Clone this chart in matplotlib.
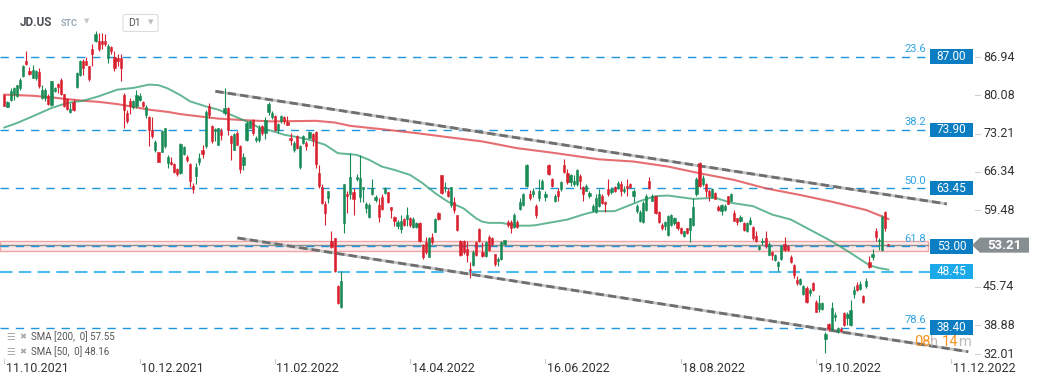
import matplotlib.pyplot as plt
import matplotlib.transforms as mtransforms
from matplotlib.patches import Rectangle, Polygon, FancyBboxPatch

plt.rcParams['font.family'] = ['Roboto', 'DejaVu Sans']

# daily candles JD.US (one entry per session)
opens = [
    80.2, 78.0, 79.3, 80.3, 79.9, 81.3, 83.6, 86.3, 84.5, 83.2,
    83.2, 84.3, 79.6, 79.6, 79.9, 78.3, 80.8, 82.1, 82.9, 80.3,
    79.5, 77.0, 78.9, 81.6, 83.7, 86.3, 86.3, 85.3, 88.4, 89.9,
    89.9, 89.9, 89.9, 86.7, 88.7, 86.9, 86.8, 86.7, 80.1, 76.9,
    79.0, 77.9, 78.1, 79.3, 78.9, 76.5, 76.1, 73.9, 70.2, 69.9,
    70.0, 70.9, 67.9, 68.2, 67.8, 66.8, 66.2, 69.6, 69.1, 67.8,
    63.8, 65.6, 68.1, 70.2, 70.9, 78.1, 74.5, 73.6, 71.2, 73.7,
    76.9, 77.8, 72.7, 70.3, 73.3, 70.9, 67.6, 72.0, 74.3, 75.7,
    72.0, 72.0, 74.5, 73.3, 77.1, 76.1, 76.3, 73.9, 75.4, 76.1,
    75.3, 72.5, 70.3, 72.7, 67.3, 71.5, 71.5, 72.5, 73.1, 73.5,
    66.2, 63.6, 60.6, 61.6, 53.9, 54.4, 45.8, 42.1, 57.2, 62.4,
    62.3, 62.7, 65.0, 61.8, 63.2, 59.8, 58.3, 62.3, 61.3, 60.4,
    61.9, 62.5, 62.7, 60.0, 58.2, 56.7, 56.1, 57.9, 57.9, 58.0,
    56.5, 56.5, 57.1, 53.2, 53.7, 51.1, 54.7, 55.6, 58.9, 65.7,
    63.4, 62.9, 60.4, 61.0, 58.6, 54.0, 54.0, 52.6, 49.0, 49.7,
    53.7, 56.1, 52.0, 51.3, 54.6, 54.4, 51.6, 50.4, 50.7, 53.5,
    57.4, 57.4, 56.5, 57.4, 59.7, 60.4, 63.9, 62.3, 62.3, 60.2,
    61.7, 63.3, 61.8, 67.5, 65.0, 61.2, 63.0, 63.2, 67.6, 66.2,
    64.5, 64.1, 64.2, 65.6, 63.6, 63.0, 62.1, 59.6, 59.2, 60.2,
    62.0, 61.0, 63.2, 62.7, 63.6, 63.5, 64.1, 62.9, 63.9, 64.2,
    62.1, 59.3, 57.6, 57.4, 59.6, 64.8, 61.2, 62.0, 59.2, 56.9,
    56.6, 55.0, 56.8, 57.2, 57.4, 56.3, 54.8, 56.2, 56.0, 56.8,
    62.3, 67.9, 64.2, 64.2, 62.9, 61.8, 62.6, 60.0, 59.3, 59.6,
    62.0, 61.2, 59.0, 58.0, 57.6, 57.2, 55.7, 57.0, 56.4, 54.8,
    52.6, 53.7, 54.5, 51.5, 52.0, 50.6, 49.4, 50.8, 53.4, 53.0,
    51.0, 49.6, 47.0, 46.2, 44.5, 45.6, 44.6, 46.4, 43.1, 41.8,
    41.8, 36.3, 39.0, 38.1, 40.3, 37.6, 38.2, 41.0, 40.2, 38.8,
    44.5, 46.1, 45.4, 44.0, 45.8, 50.2, 51.0, 55.8, 54.0, 52.4,
    59.2, 53.4,
]
highs = [
    80.3, 79.0, 81.4, 81.5, 82.0, 83.1, 85.6, 88.0, 85.1, 85.5,
    84.7, 85.0, 82.0, 81.3, 80.3, 82.7, 81.5, 82.3, 83.2, 80.4,
    79.6, 78.7, 79.5, 84.3, 86.4, 86.5, 86.9, 85.4, 89.3, 91.6,
    91.3, 91.3, 91.1, 89.3, 88.9, 88.0, 87.4, 87.4, 80.5, 77.5,
    79.6, 79.3, 81.1, 80.5, 79.0, 78.3, 76.3, 76.1, 72.1, 70.0,
    73.9, 74.3, 69.4, 69.1, 67.9, 67.0, 71.5, 70.9, 69.4, 67.9,
    64.4, 67.9, 69.7, 71.1, 77.5, 78.7, 74.7, 74.3, 74.3, 74.2,
    81.4, 77.9, 73.0, 73.3, 73.6, 71.1, 69.7, 75.4, 75.7, 75.9,
    72.7, 74.7, 74.8, 76.1, 78.9, 77.2, 76.6, 75.1, 76.6, 76.3,
    76.3, 73.3, 71.8, 73.0, 71.2, 73.0, 71.8, 73.7, 73.3, 73.6,
    67.5, 64.1, 61.1, 63.0, 55.7, 54.5, 46.0, 48.6, 64.2, 62.9,
    69.7, 63.5, 66.0, 69.4, 63.7, 61.0, 60.7, 65.1, 62.2, 61.7,
    62.3, 63.7, 62.8, 60.1, 58.5, 57.7, 58.6, 58.1, 60.1, 58.3,
    58.3, 57.4, 57.3, 53.4, 54.6, 54.7, 55.3, 58.1, 59.2, 65.8,
    64.6, 63.4, 63.7, 61.9, 58.7, 54.1, 54.1, 54.0, 50.2, 52.3,
    54.0, 56.3, 53.7, 54.0, 55.0, 54.7, 51.7, 51.1, 54.0, 54.2,
    57.7, 57.7, 58.9, 57.7, 61.6, 62.5, 67.7, 63.1, 63.4, 60.5,
    65.0, 65.0, 62.9, 67.8, 65.3, 62.3, 63.5, 64.8, 68.7, 66.9,
    65.9, 65.7, 66.8, 65.9, 63.9, 64.2, 62.9, 60.5, 62.3, 63.2,
    62.3, 61.2, 65.0, 63.6, 63.9, 64.7, 64.7, 63.8, 65.0, 64.4,
    63.2, 60.5, 59.6, 61.1, 62.3, 65.4, 62.4, 62.1, 59.4, 57.2,
    57.6, 58.7, 58.8, 58.2, 57.6, 56.4, 55.8, 56.3, 58.1, 61.7,
    65.4, 68.2, 65.7, 64.4, 63.2, 63.5, 62.7, 60.4, 60.5, 60.5,
    62.1, 62.6, 59.6, 58.1, 58.6, 57.4, 57.4, 58.2, 56.6, 55.7,
    53.3, 54.4, 55.7, 53.8, 52.1, 51.6, 50.3, 53.3, 54.6, 53.3,
    51.4, 49.8, 47.6, 47.4, 46.1, 45.8, 45.5, 46.6, 43.3, 44.2,
    43.0, 37.6, 39.3, 43.0, 41.3, 38.5, 38.5, 41.2, 41.3, 43.4,
    45.8, 46.6, 46.7, 44.2, 47.3, 51.2, 52.6, 56.2, 54.5, 58.6,
    59.3, 53.5,
]
lows = [
    78.1, 77.9, 79.1, 79.3, 79.7, 81.1, 83.4, 85.6, 83.8, 83.2,
    82.9, 81.4, 79.5, 79.0, 78.4, 78.2, 80.7, 80.5, 80.2, 77.9,
    77.5, 76.9, 77.3, 81.4, 83.5, 83.8, 85.5, 82.6, 85.3, 89.6,
    88.0, 88.4, 89.0, 85.9, 87.4, 84.4, 85.3, 82.6, 74.2, 75.1,
    76.7, 77.7, 77.8, 79.0, 77.9, 76.0, 70.9, 72.4, 70.0, 68.1,
    69.9, 70.6, 67.0, 67.6, 66.1, 65.6, 66.0, 69.4, 68.1, 63.6,
    62.6, 64.1, 67.6, 68.8, 70.6, 76.0, 71.5, 71.8, 71.1, 72.1,
    76.6, 73.0, 68.5, 70.2, 71.1, 66.2, 66.6, 71.8, 74.2, 73.0,
    71.7, 71.7, 73.0, 72.3, 76.6, 75.9, 73.7, 73.3, 75.1, 74.9,
    74.7, 71.1, 70.0, 70.5, 66.8, 71.4, 70.3, 72.4, 70.9, 67.0,
    63.5, 60.5, 56.9, 60.8, 52.7, 48.4, 42.7, 41.9, 55.4, 59.0,
    61.4, 58.7, 64.7, 61.0, 61.0, 58.9, 58.1, 62.2, 61.0, 57.4,
    59.5, 62.3, 60.7, 58.1, 56.7, 56.1, 55.3, 56.7, 56.7, 56.5,
    56.3, 56.2, 53.7, 50.8, 51.6, 51.0, 53.5, 55.5, 57.7, 62.3,
    62.8, 61.9, 60.1, 58.9, 55.7, 51.3, 51.7, 50.1, 47.4, 49.5,
    51.3, 53.7, 51.1, 51.1, 52.2, 53.1, 49.4, 49.4, 50.5, 53.2,
    56.5, 55.3, 56.2, 56.2, 59.5, 60.3, 63.7, 61.3, 61.9, 58.1,
    61.2, 63.2, 61.1, 65.7, 63.6, 61.0, 61.2, 63.0, 66.2, 64.1,
    63.9, 63.9, 63.9, 63.2, 61.2, 62.9, 61.7, 59.2, 59.0, 60.0,
    60.6, 59.2, 62.0, 62.3, 62.7, 63.2, 62.0, 62.6, 62.0, 63.5,
    61.0, 59.0, 57.4, 57.2, 59.4, 63.2, 61.1, 58.8, 57.2, 56.0,
    56.0, 54.8, 56.6, 56.8, 56.0, 55.2, 54.6, 55.2, 53.8, 56.6,
    62.0, 63.6, 63.9, 61.8, 61.1, 61.7, 61.4, 59.3, 58.6, 59.3,
    60.5, 61.1, 57.5, 56.9, 57.4, 55.8, 55.6, 56.8, 54.2, 53.8,
    52.4, 53.3, 52.7, 51.4, 50.6, 50.4, 48.6, 50.6, 52.2, 52.2,
    50.0, 47.3, 46.1, 46.0, 44.2, 42.8, 44.0, 44.9, 41.2, 41.3,
    41.6, 33.9, 37.8, 37.9, 39.6, 37.5, 37.6, 38.7, 38.8, 38.7,
    43.7, 44.9, 45.2, 42.8, 45.6, 49.1, 50.6, 53.9, 52.4, 52.2,
    55.7, 53.1,
]
closes = [
    78.2, 78.9, 80.9, 81.3, 81.9, 82.8, 85.3, 85.7, 83.9, 84.6,
    84.5, 81.7, 81.1, 81.1, 78.5, 82.6, 81.3, 81.5, 80.3, 78.1,
    77.7, 77.7, 77.5, 84.1, 86.3, 84.9, 85.6, 83.0, 87.5, 91.1,
    88.3, 89.3, 89.3, 89.0, 88.1, 84.9, 86.2, 84.9, 77.5, 75.4,
    78.1, 79.1, 80.2, 79.9, 78.1, 77.9, 73.9, 72.7, 71.7, 68.2,
    73.7, 74.2, 69.0, 67.8, 66.3, 65.9, 71.4, 70.8, 68.4, 64.7,
    63.3, 67.2, 68.8, 69.6, 77.1, 76.6, 71.8, 74.1, 74.2, 72.9,
    77.8, 73.9, 71.5, 73.1, 71.2, 66.9, 69.1, 75.1, 75.4, 73.3,
    72.4, 74.3, 73.3, 75.7, 78.5, 76.9, 73.9, 74.9, 76.3, 75.4,
    74.8, 72.0, 71.5, 70.6, 70.9, 72.7, 70.9, 73.5, 72.1, 67.8,
    63.9, 60.8, 59.0, 62.9, 52.8, 48.5, 42.8, 46.8, 64.1, 62.0,
    65.4, 61.4, 65.4, 65.2, 63.6, 60.5, 60.4, 63.5, 61.9, 58.3,
    59.7, 63.5, 60.9, 59.6, 57.6, 57.4, 57.5, 56.8, 58.7, 56.9,
    57.9, 57.1, 54.0, 51.1, 52.0, 54.4, 53.7, 57.9, 57.9, 62.5,
    63.7, 62.1, 63.6, 59.5, 55.9, 51.4, 52.0, 51.4, 48.8, 52.0,
    51.4, 54.0, 51.3, 53.7, 52.3, 53.4, 49.9, 50.8, 53.7, 54.1,
    56.8, 56.3, 58.6, 56.5, 60.9, 62.3, 67.6, 61.6, 62.9, 58.7,
    63.0, 64.8, 62.3, 65.9, 63.9, 62.0, 62.0, 64.5, 66.3, 64.5,
    65.7, 64.8, 66.6, 64.8, 62.3, 63.8, 62.6, 60.2, 61.6, 62.3,
    60.8, 60.5, 62.3, 63.3, 62.9, 64.4, 62.9, 63.3, 63.5, 63.6,
    62.9, 60.2, 59.2, 60.8, 62.1, 63.5, 62.1, 59.0, 57.4, 56.2,
    57.4, 58.4, 58.7, 58.0, 56.3, 55.4, 55.7, 55.4, 58.0, 60.0,
    65.1, 63.8, 65.3, 63.0, 62.0, 63.2, 61.5, 59.6, 60.4, 60.2,
    60.6, 62.4, 57.6, 57.4, 58.2, 56.0, 57.2, 57.8, 54.4, 54.0,
    53.0, 53.9, 53.0, 53.4, 51.4, 51.4, 50.2, 52.8, 52.4, 52.4,
    50.2, 47.9, 46.4, 47.2, 45.8, 43.0, 45.2, 45.1, 41.3, 42.8,
    42.8, 37.3, 38.1, 41.9, 40.7, 38.4, 37.9, 38.8, 40.8, 41.5,
    45.1, 45.1, 46.2, 43.0, 46.8, 49.2, 51.6, 54.6, 54.2, 58.2,
    56.3, 53.2,
]

# moving averages, sampled along the drawn curves (session index, value)
sma200_idx = [0, 9, 15, 20, 25, 30, 36, 41, 46, 52, 56, 62, 68, 77, 85, 99, 105,
              110, 120, 131, 142, 152, 163, 174, 189, 200, 211, 221, 232, 242,
              253, 263, 274, 281]
sma200_val = [80.2, 80.0, 79.7, 79.4, 79.1, 78.9, 78.5, 78.0, 77.5, 77.1, 76.7,
              76.3, 75.9, 75.6, 75.4, 75.5, 75.2, 74.6, 74.0, 73.3, 72.5, 71.8,
              70.6, 69.8, 68.6, 68.2, 67.3, 66.1, 64.9, 63.4, 62.2, 61.0, 59.5,
              57.9]
sma50_idx = [0, 4, 9, 15, 20, 25, 30, 36, 41, 46, 49, 52, 56, 59, 64, 68, 72, 77,
             81, 85, 89, 93, 97, 102, 106, 112, 116, 120, 124, 129, 133, 137,
             141, 146, 150, 152, 154, 158, 163, 167, 169, 179, 184, 188, 194,
             198, 202, 207, 211, 215, 219, 226, 231, 238, 244, 250, 257, 263,
             269, 275, 278, 281]
sma50_val = [74.3, 75.1, 76.3, 77.8, 78.7, 79.1, 79.9, 81.1, 81.4, 82.0, 81.9,
             81.3, 80.1, 79.0, 78.1, 77.5, 76.6, 75.4, 74.3, 73.7, 73.0, 72.6,
             72.1, 71.2, 69.7, 69.4, 68.5, 67.3, 66.7, 65.8, 64.3, 62.5, 61.0,
             59.8, 58.0, 57.4, 57.2, 57.2, 56.7, 56.7, 56.8, 57.8, 58.7, 59.3,
             59.3, 60.2, 61.1, 62.0, 62.1, 61.8, 61.5, 61.7, 60.8, 60.2, 58.7,
             57.8, 55.7, 53.9, 51.8, 49.6, 49.1, 48.8]

fib_labels = ["23.6", "38.2", "50.0", "61.8", "78.6"]
fib_levels = [87.00, 73.90, 63.45, 53.00, 38.40]
support_level = 48.45
last_price = 53.21
zone_low, zone_high = 52.2, 54.0
price_ticks = [86.94, 80.08, 73.21, 66.34, 59.48, 45.74, 38.88, 32.01]
date_labels = ["11.10.2021", "10.12.2021", "11.02.2022", "14.04.2022",
               "16.06.2022", "18.08.2022", "19.10.2022", "11.12.2022"]
date_pos = [0, 43, 86, 129, 172, 215, 258, 301]
upper_x, upper_y = [67.1, 299.6], [80.8, 60.6]
lower_x, lower_y = [74.1, 306.4], [54.5, 34.1]
legend_lines = ["SMA [200,  0] 57.55", "SMA [50,  0] 48.16"]

W, H = 1041, 385
AXW, AXH = 975, 359
fig = plt.figure(figsize=(W / 100, H / 100), dpi=100)
ax = fig.add_axes([0, (H - AXH) / H, AXW / W, AXH / H])
ax.set_xlim(-1.37, 308.55)
ax.set_ylim(32.79, 97.17)
ax.axis('off')

ty = mtransforms.blended_transform_factory(ax.transAxes, ax.transData)
tx = mtransforms.blended_transform_factory(ax.transData, ax.transAxes)


def axx(px):
    return px / AXW


def fx(px, py):
    return px / W, 1 - py / H


GREEN, RED = '#178a55', '#d9202f'
BLUE = '#1e96de'

# zone + levels
ax.axhspan(zone_low, zone_high, xmin=0, xmax=axx(928), facecolor='#fdeaea',
           edgecolor='#f2a5a5', lw=1, zorder=1)
ax.axhline(last_price, xmax=axx(928), color='#8c8c8c', lw=1, zorder=2)
for lvl in fib_levels:
    ax.axhline(lvl, xmax=axx(926), color=BLUE, lw=1.0, ls=(0, (6, 5)), zorder=2)
ax.axhline(support_level, xmax=axx(930), color='#4cbcf0', lw=1.5,
           ls=(0, (6, 3)), zorder=2)

# trend channel
for xs, ys in [(upper_x, upper_y), (lower_x, lower_y)]:
    ax.plot(xs, ys, color='#c4c4c4', lw=2.0, solid_capstyle='butt', zorder=3)
    ax.plot(xs, ys, color='#6e6e6e', lw=2.0, ls=(0, (3, 1.5)), zorder=3)

# moving averages
ax.plot(sma200_idx, sma200_val, color='#e04a4f', lw=1.5, alpha=0.8, zorder=4)
ax.plot(sma50_idx, sma50_val, color='#2f9e6f', lw=1.4, alpha=0.75, zorder=4)

# candles
idx = list(range(len(opens)))
cols = [GREEN if c >= o else RED for o, c in zip(opens, closes)]
ax.vlines(idx, lows, highs, colors=cols, lw=0.8, zorder=5)
bottoms = [min(o, c) for o, c in zip(opens, closes)]
heights = [max(abs(c - o), 0.12) for o, c in zip(opens, closes)]
ax.bar(idx, heights, bottom=bottoms, width=0.7, color=cols, edgecolor=cols,
       lw=0.4, zorder=6)

# level tags on the right
for lbl, lvl in zip(fib_labels, fib_levels):
    ax.text(axx(926), lvl + 0.45, lbl, transform=ty, ha='right', va='bottom',
            color='#2ea3e3', fontsize=8, zorder=7)
    ax.add_patch(Rectangle((axx(930), lvl - 1.3), axx(43), 2.6, transform=ty,
                           facecolor='#0b7dc3', clip_on=False, zorder=7))
    ax.text(axx(951.5), lvl, f"{lvl:.2f}", transform=ty, ha='center',
            va='center', color='white', fontsize=8.5, zorder=8)
ax.add_patch(Rectangle((axx(930), support_level - 1.3), axx(43), 2.6,
                       transform=ty, facecolor='#1ca9ea', clip_on=False, zorder=7))
ax.text(axx(951.5), support_level, f"{support_level:.2f}", transform=ty,
        ha='center', va='center', color='white', fontsize=8.5, zorder=8)

tag = Polygon([(axx(972), last_price), (axx(980), last_price + 1.35),
               (axx(1029), last_price + 1.35), (axx(1029), last_price - 1.35),
               (axx(980), last_price - 1.35)], closed=True, transform=ty,
              facecolor='#878e92', edgecolor='none', clip_on=False, zorder=7)
ax.add_patch(tag)
ax.text(axx(1004), last_price, f"{last_price:.2f}", transform=ty, ha='center',
        va='center', color='white', fontsize=9.5, fontweight='bold', zorder=8)

# price axis labels
ymin = ax.get_ylim()[0]
for v in price_ticks:
    y = max(v, ymin + 0.85)
    ax.plot([axx(975), axx(980)], [y, y], transform=ty, color='#d0d0d0',
            lw=0.8, clip_on=False)
    ax.text(axx(983), y, f"{v:.2f}", transform=ty, ha='left', va='center',
            fontsize=9, color='#333333')

# date axis labels
for p, lbl in zip(date_pos, date_labels):
    ax.plot([p, p], [0, -4 / AXH], transform=tx, color='#cccccc', lw=0.8,
            clip_on=False)
    ax.text(p + 0.5, -9 / AXH, lbl, transform=tx, ha='left', va='center',
            fontsize=9, color='#333333')

# header
fig.text(*fx(20, 23), "JD.US", fontsize=8.5, fontweight='bold',
         color='#4a4f55', va='center')
fig.text(*fx(61, 24), "STC", fontsize=6.5, fontweight='bold',
         color='#9aa9b8', va='center')
fig.text(*fx(87, 22), "▼", fontsize=5, color='#c5c5c5', va='center',
         ha='center')
box = FancyBboxPatch(fx(123, 31.5), 35 / W, 17 / H,
                     boxstyle='round,pad=0,rounding_size=0.003',
                     transform=fig.transFigure, facecolor='white',
                     edgecolor='#dcdcdc', lw=0.8)
fig.patches.append(box)
fig.text(*fx(128, 23.5), "D1", fontsize=7.5, color='#555555', va='center')
fig.text(*fx(151, 23), "▼", fontsize=5, color='#bbbbbb', va='center',
         ha='center')

# indicator legend
for i, line in enumerate(legend_lines):
    yy = 337 + 15 * i
    fig.text(*fx(6, yy), "☰", fontsize=7, color='#a8a8a8', va='center')
    fig.text(*fx(19, yy), "✖", fontsize=6, color='#a8a8a8', va='center')
    fig.text(*fx(31, yy), line, fontsize=7, color='#555555', va='center')

# countdown
for px_x, txt, col in [(914, "08", '#f6921e'), (930, "h", '#bdbdbd'),
                       (942, "14", '#f6921e'), (959, "m", '#bdbdbd')]:
    fig.text(*fx(px_x, 346), txt, fontsize=10.5, color=col, va='baseline')

fig.savefig('out.png', dpi=100)
